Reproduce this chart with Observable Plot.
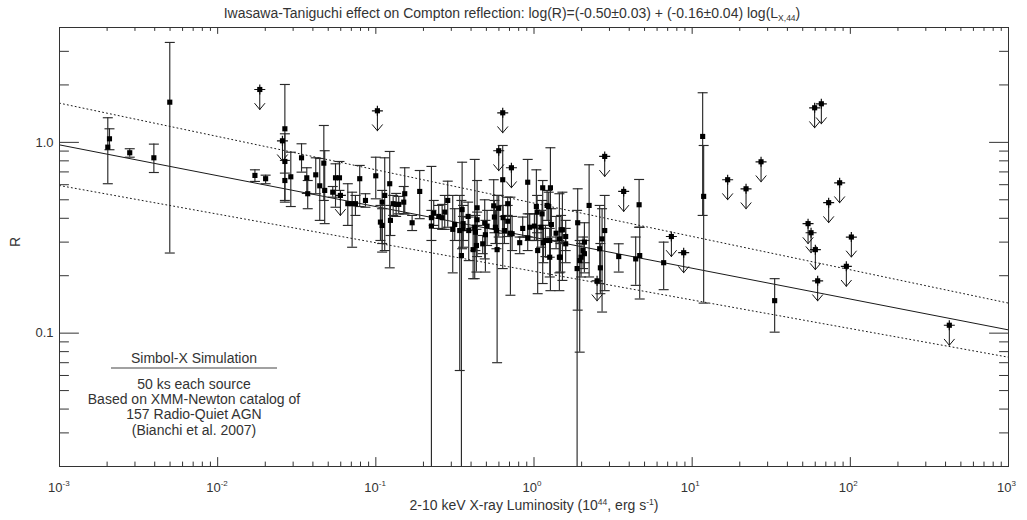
<!DOCTYPE html>
<html><head><meta charset="utf-8">
<script src="https://cdn.jsdelivr.net/npm/d3@7"></script>
<script src="https://cdn.jsdelivr.net/npm/@observablehq/plot@0.6"></script>
<style>
body{margin:0;background:#fff;}
#chart svg{display:block;}
</style></head><body><div id="chart"></div>
<script>
// ---- Detections: luminosity (1e44 erg/s), R, lower/upper error bounds
const detL = [0.00202,0.00207,0.00278,0.00395,0.00498,0.0172,0.0201,0.0266,0.0266,0.0266,
  0.0290,0.0339,0.0366,0.0371,0.0417,0.0442,0.0469,0.0475,0.0534,0.0556,
  0.0589,0.0665,0.0708,0.0743,0.0791,0.0860,0.0999,0.1096,0.1138,0.1224,
  0.1069,0.1096,0.1237,0.1287,0.1344,0.1396,0.1501,0.1523,0.1696,0.1894,
  0.2246,0.2246,0.2323,0.2498,0.2625,0.2727,0.2848,0.3063,0.3154,0.3476,
  0.3392,0.3512,0.3563,0.3563,0.3832,0.3866,0.4121,0.4219,0.4262,0.4369,
  0.4369,0.4324,0.4739,0.4880,0.4929,0.5052,0.5563,0.5620,0.5702,0.5786,
  0.5845,0.5983,0.6342,0.6379,0.6500,0.6820,0.6820,0.7094,0.7272,0.8121,
  0.8484,0.9125,0.9125,0.9394,1.006,1.035,1.046,1.055,1.109,1.125,
  1.135,1.147,1.181,1.210,1.239,1.257,1.270,1.257,1.288,1.379,
  1.447,1.484,1.447,1.512,1.586,1.586,1.469,1.889,1.873,1.945,
  1.985,2.044,2.083,2.083,2.231,2.602,2.628,2.694,2.799,3.433,
  4.395,4.619,4.660,6.604,11.65,11.82,33.23];
const detR = [0.944,1.044,0.882,0.830,1.624,0.671,0.645,1.178,0.794,0.631,
  0.660,0.830,0.652,0.538,0.676,0.592,0.778,0.560,0.548,0.652,
  0.652,0.477,0.477,0.477,0.645,0.496,0.668,0.486,0.527,0.607,
  0.382,0.367,0.390,0.477,0.473,0.473,0.486,0.538,0.379,0.553,
  0.403,0.364,0.425,0.409,0.403,0.431,0.496,0.350,0.371,0.255,
  0.345,0.444,0.375,0.353,0.409,0.345,0.274,0.359,0.338,0.454,
  0.393,0.288,0.294,0.377,0.328,0.364,0.465,0.406,0.359,0.345,
  0.274,0.452,0.637,0.403,0.345,0.477,0.386,0.334,0.332,0.298,
  0.354,0.618,0.316,0.359,0.364,0.461,0.431,0.271,0.359,0.422,
  0.578,0.298,0.306,0.467,0.461,0.306,0.578,0.250,0.371,0.334,
  0.312,0.348,0.250,0.348,0.321,0.294,0.250,0.379,0.218,0.240,
  0.250,0.271,0.300,0.261,0.467,0.277,0.220,0.312,0.345,0.252,
  0.245,0.471,0.255,0.234,1.074,0.521,0.148];
const detHi = [1.346,1.178,0.926,0.979,3.34,0.718,0.673,2.011,1.109,0.804,
  0.888,0.983,0.736,0.631,0.830,0.823,1.226,0.904,0.587,0.772,
  0.794,0.607,0.548,0.527,0.757,0.538,0.836,0.560,0.830,0.896,
  0.467,0.449,0.467,0.527,0.540,0.521,0.587,0.736,0.414,0.712,
  0.748,0.440,0.496,0.467,0.473,0.527,0.626,0.527,0.449,0.496,
  0.527,0.787,0.467,0.409,0.486,0.406,0.359,0.814,0.414,0.631,
  0.431,0.350,0.325,0.500,0.390,0.440,0.637,0.496,0.440,0.461,
  0.527,0.527,0.963,0.467,0.409,0.516,0.467,0.516,0.409,0.319,
  0.406,0.814,0.422,0.422,0.422,0.718,0.527,0.367,0.440,0.496,
  0.631,0.354,0.367,0.560,0.548,0.354,0.937,0.306,0.449,0.409,
  0.538,0.414,0.306,0.548,0.390,0.354,0.295,0.571,0.440,0.306,
  0.295,0.319,0.379,0.306,0.763,0.467,0.295,0.449,0.527,0.294,
  0.319,0.639,0.359,0.300,1.820,0.963,0.193];
const detLo = [0.607,0.915,0.836,0.695,0.263,0.624,0.607,0.690,0.496,0.486,
  0.461,0.698,0.540,0.449,0.538,0.390,0.496,0.375,0.516,0.457,
  0.560,0.367,0.282,0.414,0.461,0.457,0.506,0.266,0.271,0.220,
  0.306,0.295,0.325,0.414,0.409,0.422,0.422,0.422,0.345,0.398,
  0.001,0.306,0.367,0.354,0.350,0.350,0.359,0.207,0.306,0.001,
  0.0637,0.277,0.306,0.282,0.345,0.240,0.193,0.193,0.271,0.367,
  0.252,0.209,0.261,0.245,0.209,0.288,0.353,0.336,0.295,0.277,
  0.0700,0.319,0.218,0.334,0.295,0.414,0.321,0.158,0.271,0.261,
  0.319,0.319,0.271,0.306,0.306,0.306,0.336,0.161,0.282,0.354,
  0.182,0.234,0.252,0.390,0.367,0.250,0.167,0.197,0.319,0.277,
  0.167,0.295,0.207,0.189,0.271,0.234,0.209,0.132,0.001,0.0795,
  0.197,0.218,0.234,0.207,0.197,0.182,0.161,0.129,0.167,0.209,
  0.178,0.359,0.151,0.169,0.414,0.1437,0.1012];

// ---- Upper limits
const ulL = [0.01846,0.02568,0.0597,0.1023,0.6342,0.5983,0.7198,2.505,2.799,3.690,
  7.389,8.838,16.76,21.91,27.26,59.48,65.57,54.04,56.45,60.1,
  62.14,72.94,85.58,101.5,94.35,422.5];
const ulR = [1.893,1.019,0.527,1.464,1.429,0.904,0.736,0.188,0.844,0.553,
  0.321,0.264,0.637,0.571,0.791,1.518,1.593,0.375,0.336,0.274,
  0.188,0.483,0.614,0.319,0.224,0.110];

// ---- Fit line and dispersion (dotted) lines, end points
const fitL = [0.001, 1000];
const fitR = [0.97, 0.104];
const upperR = [1.605, 0.1437];
const lowerR = [0.594, 0.0748];

// ---- Axis tick labels
const xMajor = [1e-3, 1e-2, 1e-1, 1, 10, 100, 1000];
const xBase = ["10","10","10","10","10","10","10"];
const xExp = ["-3","-2","-1","0","1","2","3"];
const yMajor = [0.1, 1];
const yLabels = ["0.1", "1.0"];

// ---- Annotation text
const noteTitle = "Simbol-X Simulation";
const noteLines = ["50 ks each source", "Based on XMM-Newton catalog of", "157 Radio-Quiet AGN", "(Bianchi et al. 2007)"];

[detR, detHi, detLo].forEach(a => { if (a.length !== detL.length) throw new Error("length mismatch " + a.length); });
if (ulR.length !== ulL.length) throw new Error("ul mismatch");

const det = detL.map((L, i) => ({L, R: detR[i], lo: detLo[i], hi: detHi[i]}));
const ul = ulL.map((L, i) => ({L, R: ulR[i]}));
const fit = fitL.map((L, i) => ({L, R: fitR[i], up: upperR[i], low: lowerR[i]}));

const xDomain = [1e-3, 1e3], yDomain = [0.02, 4];
const xMinor = [], yMinor = [];
for (let e = -3; e < 3; e++) for (let m = 2; m <= 9; m++) xMinor.push(m * Math.pow(10, e));
for (let e = -2; e < 1; e++) for (let m = 2; m <= 9; m++) { const v = m * Math.pow(10, e); if (v > yDomain[0] && v < yDomain[1]) yMinor.push(v); }

const ink = "#1a1a1a";
const lineShape = {draw(ctx, l) { ctx.moveTo(0, 0); ctx.lineTo(0, -l); }};
const arrowShape = {draw(ctx, l) { ctx.moveTo(0, 0); ctx.lineTo(0, -l); ctx.moveTo(-5, -l + 6); ctx.lineTo(0, -l); ctx.lineTo(5, -l + 6); }};
const capSymbol = {draw(ctx) { ctx.moveTo(-5, 0); ctx.lineTo(5, 0); }};
const crossSymbol = {draw(ctx) { ctx.moveTo(-5.5, 0); ctx.lineTo(5.5, 0); ctx.moveTo(0, -5); ctx.lineTo(0, 5); }};
const font = '"Liberation Sans", Arial, Helvetica, sans-serif';

const tickV = (data, anchor, rot, len) => Plot.vector(data, {
  ...(anchor === "top" || anchor === "bottom" ? {x: d => d} : {y: d => d}),
  frameAnchor: anchor, rotate: rot, length: len, anchor: "start", shape: lineShape, stroke: "#333", strokeWidth: 1
});

const plot = Plot.plot({
  width: 1027, height: 520,
  marginLeft: 59, marginRight: 19, marginTop: 27, marginBottom: 54,
  style: {fontFamily: font, fontSize: "13px", color: ink, background: "#fff"},
  x: {type: "log", domain: xDomain, axis: null},
  y: {type: "log", domain: yDomain, axis: null},
  marks: [
    // fit and dispersion lines
    Plot.line(fit, {x: "L", y: "R", stroke: ink, strokeWidth: 1}),
    Plot.line(fit, {x: "L", y: "up", stroke: ink, strokeWidth: 1, strokeDasharray: "1,3"}),
    Plot.line(fit, {x: "L", y: "low", stroke: ink, strokeWidth: 1, strokeDasharray: "1,3"}),
    // error bars
    Plot.ruleX(det, {x: "L", y1: "lo", y2: "hi", stroke: "#2a2a2a", strokeWidth: 1.15, clip: true}),
    Plot.dot(det.filter(d => d.hi < yDomain[1]), {x: "L", y: "hi", symbol: capSymbol, stroke: "#2a2a2a", fill: "none", strokeWidth: 1.15}),
    Plot.dot(det.filter(d => d.lo > yDomain[0]), {x: "L", y: "lo", symbol: capSymbol, stroke: "#2a2a2a", fill: "none", strokeWidth: 1.15}),
    Plot.dot(det, {x: "L", y: "R", symbol: "square", r: 2.9, fill: "#000", stroke: "none"}),
    // upper limits
    Plot.vector(ul, {x: "L", y: "R", length: 20, rotate: 180, anchor: "start", shape: arrowShape, stroke: "#111", strokeWidth: 1}),
    Plot.dot(ul, {x: "L", y: "R", symbol: crossSymbol, stroke: "#111", fill: "none", strokeWidth: 1.2}),
    Plot.dot(ul, {x: "L", y: "R", symbol: "square", r: 2.9, fill: "#000", stroke: "none"}),
    // frame and ticks
    Plot.frame({stroke: "#333", strokeWidth: 1}),
    tickV(xMajor, "bottom", 0, 9), tickV(xMinor, "bottom", 0, 4.5),
    tickV(xMajor, "top", 180, 6), tickV(xMinor, "top", 180, 3),
    tickV(yMajor, "left", 90, 19), tickV(yMinor, "left", 90, 9),
    tickV(yMajor, "right", 270, 19), tickV(yMinor, "right", 270, 9),
    // tick labels
    Plot.text(xMajor, {x: d => d, frameAnchor: "bottom", text: (d, i) => xBase[i], dy: 25, dx: 3, textAnchor: "end", lineAnchor: "bottom", fontSize: 13, fill: "#333"}),
    Plot.text(xMajor, {x: d => d, frameAnchor: "bottom", text: (d, i) => xExp[i], dy: 19.5, dx: 3, textAnchor: "start", lineAnchor: "bottom", fontSize: 8, fill: "#333"}),
    Plot.text(yMajor, {y: d => d, frameAnchor: "left", text: (d, i) => yLabels[i], dx: -6, textAnchor: "end", fontSize: 13, fill: "#333"}),
    Plot.text(["R"], {frameAnchor: "left", text: d => d, dx: -44, rotate: -90, fontSize: 14, fill: "#333"})
  ]
});

const svg = d3.select(plot);
const addText = (x, y, parts, size) => {
  const t = svg.append("text").attr("x", x).attr("y", y).attr("text-anchor", "middle")
    .attr("font-family", font).attr("font-size", size).attr("fill", "#333");
  parts.forEach(p => {
    const s = t.append("tspan").text(p.t);
    if (p.dy) s.attr("dy", p.dy);
    if (p.size) s.attr("font-size", p.size);
  });
  return t;
};
// title
addText(512, 18, [
  {t: "Iwasawa-Taniguchi effect on Compton reflection: log(R)=(-0.50±0.03) + (-0.16±0.04) log(L"},
  {t: "X,44", size: 8.5, dy: 3}, {t: ")", dy: -3}], 14);
// x label
addText(534, 510, [
  {t: "2-10 keV X-ray Luminosity (10"}, {t: "44", size: 8.5, dy: -5},
  {t: ", erg s", dy: 5}, {t: "-1", size: 8.5, dy: -5}, {t: ")", dy: 5}], 14);
// annotation
addText(194, 363, [{t: noteTitle}], 14);
svg.append("line").attr("x1", 111).attr("x2", 277).attr("y1", 368).attr("y2", 368).attr("stroke", "#444").attr("stroke-width", 1.2);
noteLines.forEach((s, i) => addText(194, 388.5 + i * 15.4, [{t: s}], 14));

document.getElementById("chart").append(plot);
</script></body></html>
